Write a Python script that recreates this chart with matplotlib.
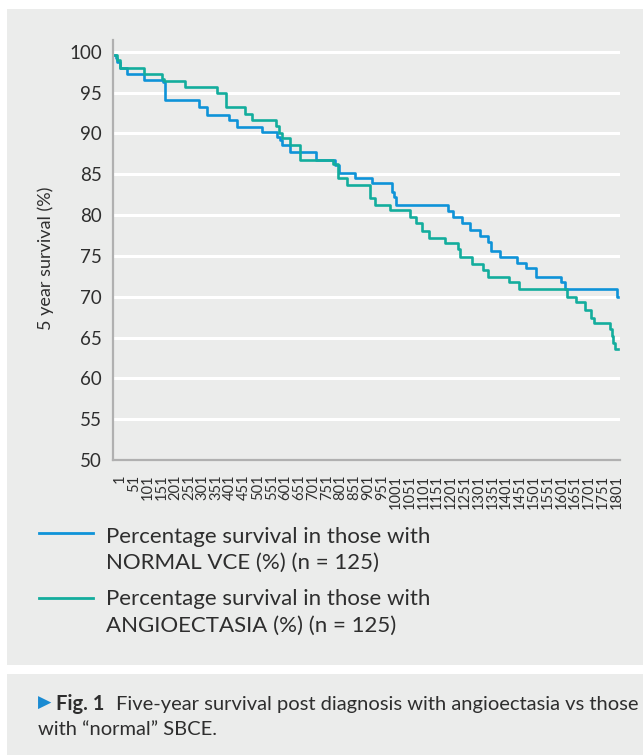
import matplotlib
matplotlib.use("Agg")
import matplotlib.pyplot as plt
from matplotlib.lines import Line2D
from matplotlib.patches import Rectangle
import matplotlib.transforms as mtransforms

plt.rcParams['font.family'] = ['Lato', 'DejaVu Sans']

# ---- data (days since diagnosis, survival %) ----
normal_days = [1, 5, 10, 18, 45, 105, 175, 183, 304, 335, 416, 443, 534, 588, 598, 606,
               634, 731, 799, 815, 872, 933, 1005, 1013, 1021, 1210, 1228, 1259, 1289,
               1325, 1355, 1364, 1398, 1457, 1491, 1527, 1619, 1633, 1821, 1826]
normal_surv = [99.6, 99.2, 98.8, 98.0, 97.3, 96.6, 96.3, 94.15, 93.25, 92.3, 91.7, 90.8,
               90.2, 89.6, 89.2, 88.55, 87.7, 86.8, 86.1, 85.2, 84.5, 83.9, 82.8, 82.2,
               81.2, 80.5, 79.8, 79.0, 78.15, 77.4, 76.7, 75.6, 74.9, 74.1, 73.5, 72.45,
               71.75, 70.9, 70.0, 70.0]

angio_days = [1, 8, 20, 105, 171, 180, 256, 371, 403, 473, 498, 586, 594, 606, 634, 673,
              791, 811, 844, 926, 945, 999, 1071, 1093, 1114, 1138, 1198, 1246, 1253,
              1295, 1337, 1355, 1431, 1467, 1639, 1672, 1706, 1727, 1739, 1796, 1802,
              1808, 1814, 1826]
angio_surv = [99.6, 98.96, 98.0, 97.3, 96.7, 96.4, 95.7, 94.9, 93.25, 92.35, 91.7, 90.9,
              90.0, 89.4, 88.55, 86.8, 86.2, 84.6, 83.66, 82.15, 81.2, 80.6, 79.8, 79.0,
              78.05, 77.25, 76.6, 75.8, 74.9, 74.0, 73.3, 72.4, 71.75, 71.0, 70.0, 69.3,
              68.35, 67.45, 66.8, 66.0, 65.2, 64.35, 63.65, 63.65]

x_ticks = list(range(1, 1802, 50))
x_tick_labels = [str(v) for v in x_ticks]
y_ticks = list(range(50, 101, 5))

series_labels = [["Percentage survival in those with", "NORMAL VCE (%) (n = 125)"],
                 ["Percentage survival in those with", "ANGIOECTASIA (%) (n = 125)"]]
y_label = "5 year survival (%)"
caption_bold = "Fig. 1"
caption_line1 = "Five-year survival post diagnosis with angioectasia vs those"
caption_line2 = "with \u201cnormal\u201d SBCE."

BLUE = "#0e93d8"
TEAL = "#13ad9d"
ARROW = "#1a8bd2"
PANEL = "#ebeceb"
TXT = "#2e2e2e"

W, H = 643, 755
fig = plt.figure(figsize=(W / 100, H / 100), dpi=100, facecolor="white")


def fx(px):
    return px / W


def fy(py):
    return 1 - py / H


# background panels
fig.add_artist(Rectangle((fx(7), fy(665)), fx(643 - 7), (665 - 9) / H,
                         transform=fig.transFigure, facecolor=PANEL, edgecolor="none", zorder=0))
fig.add_artist(Rectangle((fx(7), 0), fx(643 - 7), (755 - 674) / H,
                         transform=fig.transFigure, facecolor=PANEL, edgecolor="none", zorder=0))

ax = fig.add_axes([fx(113), fy(460), fx(620 - 113), (460 - 40) / H])
ax.set_facecolor("none")
ax.set_xlim(-6, 1832)
ax.set_ylim(50, 101.45)

for yv in y_ticks[1:]:
    ax.axhline(yv, color="white", lw=2.2, zorder=1)

ax.step(normal_days, normal_surv, where="post", color=BLUE, lw=1.9, zorder=3)
ax.step(angio_days, angio_surv, where="post", color=TEAL, lw=1.9, zorder=3)

for s in ["top", "right"]:
    ax.spines[s].set_visible(False)
for s in ["left", "bottom"]:
    ax.spines[s].set_color("#b0b0b0")
    ax.spines[s].set_linewidth(1.6)

ax.set_yticks(y_ticks)
ax.set_yticklabels([str(v) for v in y_ticks], fontsize=13.5, color=TXT)
ax.set_xticks(x_ticks)
ax.set_xticklabels(x_tick_labels, rotation=90, fontsize=10.5, color=TXT, va="top", ha="center")
ax.tick_params(axis="both", length=0)
ax.tick_params(axis="y", pad=8)
ax.tick_params(axis="x", pad=10.5)
offset = mtransforms.ScaledTranslation(5 / 100, 0, fig.dpi_scale_trans)
for lab in ax.get_xticklabels():
    lab.set_transform(lab.get_transform() + offset)

fig.text(fx(46), fy(258), y_label, rotation=90, ha="center", va="center",
         fontsize=13, color=TXT)

# legend
handle_y = [533.3, 597.7]
text_baselines = [[542.7, 569.3], [605.0, 631.7]]
for lines, col, hy, bls in zip(series_labels, [BLUE, TEAL], handle_y, text_baselines):
    fig.add_artist(Line2D([fx(39.3), fx(92.7)], [fy(hy), fy(hy)], color=col, lw=2.0,
                          transform=fig.transFigure))
    for line, bl in zip(lines, bls):
        fig.text(fx(106), fy(bl), line, ha="left", va="baseline", fontsize=16, color=TXT)

# caption
fig.text(fx(37.5), fy(703), "\u25B6", ha="left", va="center", fontsize=12.5, color=ARROW,
         family=["DejaVu Sans"])
fig.text(fx(56.5), fy(710), caption_bold, ha="left", va="baseline", fontsize=14.5,
         color=TXT, fontweight="bold")
fig.text(fx(116), fy(710), caption_line1, ha="left", va="baseline", fontsize=14.5, color=TXT)
fig.text(fx(37.5), fy(735), caption_line2, ha="left", va="baseline", fontsize=14.5, color=TXT)

fig.savefig("out.png", dpi=100, facecolor="white")
